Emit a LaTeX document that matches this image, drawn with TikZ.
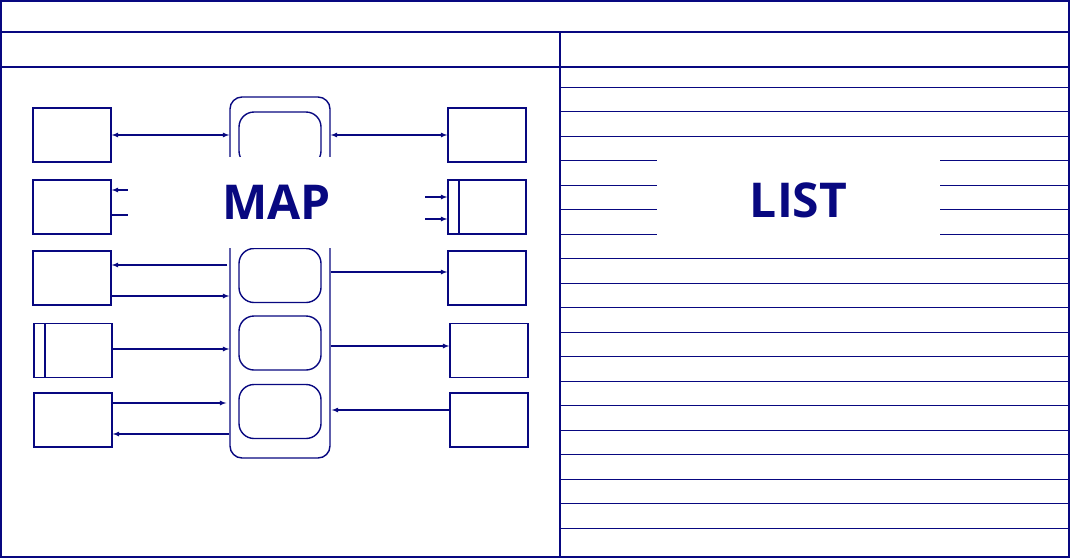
\documentclass[tikz,border=0pt]{standalone}
\usepackage{fontspec}
\newfontfamily\labelfont{Open Sans}
\usetikzlibrary{calc}
\definecolor{navy}{RGB}{8,8,128}
\tikzset{
  unit/.style={draw=navy, line width=1.4pt, minimum width=78pt, minimum height=54pt, inner sep=0pt},
  slot/.style={draw=navy, line width=1.4pt, rounded corners=15pt, minimum width=82pt, minimum height=54pt, inner sep=0pt},
  link/.style={draw=navy, line width=1.2pt, -latex},
  rule/.style={draw=navy, line width=0.8pt},
  cover/.style={fill=white, draw=none, inner sep=0pt, font=\labelfont\bfseries\fontsize{48}{48}\selectfont, text=navy}
}
\begin{document}
\begin{tikzpicture}[x=1pt,y=-1pt]
\useasboundingbox (0,0) rectangle (1070,558);

% frame
\draw[navy, line width=1.6pt] (1,1) rectangle (1069,557);
\draw[navy, line width=1.4pt] (1,32) -- (1069,32);
\draw[navy, line width=1.4pt] (1,67) -- (1069,67);
\draw[navy, line width=1.4pt] (560,32) -- (560,557);

% list rules
\foreach \y in {87,111,136,160,185,209,234,258,283,307,332,356,381,405,430,454,479,503,528}
  \draw[rule] (560,\y) -- (1069,\y);

% core
\node[draw=navy, line width=1.4pt, rounded corners=12pt, minimum width=100pt, minimum height=361pt] (core) at (280,277.5) {};
\node[slot] (s1) at (280,139) {};
\node[slot] (s3) at (280,275.5) {};
\node[slot] (s4) at (280,343) {};
\node[slot] (s5) at (280,411.5) {};

% left units
\node[unit] (l1) at (72,135) {};
\node[unit] (l2) at (72,207) {};
\node[unit] (l3) at (72,278) {};
\node[unit] (l4) at (73,350.5) {};
\node[unit] (l5) at (73,420) {};
\draw[navy, line width=1.4pt] (45,323) -- (45,378);

% right units
\node[unit] (r1) at (487,135) {};
\node[unit] (r2) at (487,207) {};
\node[unit] (r3) at (487,278) {};
\node[unit] (r4) at (489,350.5) {};
\node[unit] (r5) at (489,420) {};
\draw[navy, line width=1.4pt] (459,180) -- (459,234);

% connectors
\draw[link, latex-latex] (l1.east) -- (core.west |- l1.east);
\draw[link, latex-latex] (core.east |- r1.west) -- (r1.west);
\draw[link] (core.west |- 0,190) -- (l2.east |- 0,190);
\draw[link] (l2.east |- 0,215) -- (core.west |- 0,215);
\draw[link] (core.east |- 0,197) -- (r2.west |- 0,197);
\draw[link] (core.east |- 0,219) -- (r2.west |- 0,219);
\draw[link] ([xshift=-2pt]core.west |- 0,265) -- (l3.east |- 0,265);
\draw[link] (l3.east |- 0,296) -- (core.west |- 0,296);
\draw[link] (core.east |- 0,272) -- (r3.west |- 0,272);
\draw[link] (l4.east |- 0,349) -- (core.west |- 0,349);
\draw[link] (core.east |- 0,346) -- (r4.west |- 0,346);
\draw[link] (l5.east |- 0,403) -- ([xshift=-3pt]core.west |- 0,403);
\draw[link] (core.west |- 0,434) -- (l5.east |- 0,434);
\draw[link] (r5.west |- 0,410) -- ([xshift=1pt]core.east |- 0,410);

% labels
\node[cover, minimum width=297pt, minimum height=91pt] (map) at (276.5,202.5) {MAP};
\node[cover, minimum width=283pt, minimum height=106pt] (list) at (798.5,200) {LIST};
\end{tikzpicture}
\end{document}
